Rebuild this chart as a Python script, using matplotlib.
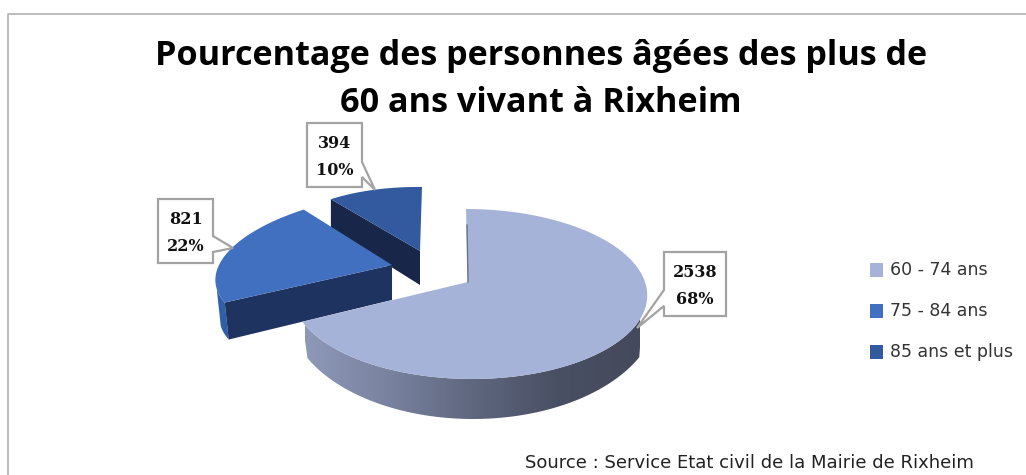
#!/usr/bin/env python3
import matplotlib
matplotlib.use('Agg')
import matplotlib.pyplot as plt
from matplotlib.colors import LinearSegmentedColormap
from matplotlib.patches import Polygon, Rectangle
import numpy as np

categories = ['60 - 74 ans', '75 - 84 ans', '85 ans et plus']
values = [2538, 821, 394]
title_lines = ['Pourcentage des personnes âgées des plus de', '60 ans vivant à Rixheim']
source = 'Source : Service Etat civil de la Mairie de Rixheim'

top_colors = ['#a6b3d8', '#4170c0', '#335a9f']
face_colors = ['#6b7285', '#1f3360', '#18264a']

fig = plt.figure(figsize=(10.26, 4.75), dpi=100)
ax = fig.add_axes([0, 0, 1, 1])
ax.set_xlim(0, 1026)
ax.set_ylim(475, 0)
ax.axis('off')

# frame of the chart area
ax.plot([8, 8, 1026], [475, 14, 14], color='#b0b0b0', lw=1.2)

# wedge angles, clockwise from 12 o'clock
shares = np.array(values) / sum(values)
edges = np.concatenate([[0], np.cumsum(shares)]) * 2 * np.pi


def arc(a1, a2, geo, n=120):
    a = np.linspace(a1, a2, n)
    x = geo['cx'] + geo['A'] * np.sin(a) + geo['B'] * np.cos(a)
    y = geo['cy'] + geo['E'] * np.sin(a) + geo['F'] * np.cos(a)
    return np.column_stack([x, y])


def main_arc(a1, a2, n=200):
    # the big slice needs real perspective, the front is nearer than the back
    a = np.linspace(a1, a2, n)
    u, v = np.sin(a), -np.cos(a)
    d = 1 - 0.141 * v
    return np.column_stack([469 + 3 * v + 176 * u / d, 282 + 83.3 * v / d])


# perspective of the exploded slices, fitted by eye
main_low = dict(cx=473, cy=309, A=185, B=0, E=0, F=-110)
mid = dict(cx=392, cy=265, A=175, B=24, E=-5, F=-74)
back = dict(cx=420, cy=251, A=148, B=2, E=2, F=-64)

# back slice, 85 ans et plus
a1, a2 = edges[2], edges[3]
top = arc(a1, a2, back)
apex = np.array([420, 251])
ax.add_patch(Polygon([apex, top[0], top[0] + [0, 30], apex + [0, 34]], fc=face_colors[2], ec='none', zorder=2))
ax.add_patch(Polygon(np.vstack([apex, top]), fc=top_colors[2], ec='none', zorder=3))

# middle slice, 75 - 84 ans
a1, a2 = edges[1], edges[2]
top = arc(a1, a2, mid)
apex = np.array([392, 265])
drop = np.array([4, 37])
lip = arc(a1, np.radians(255), mid)
ax.add_patch(Polygon(np.vstack([lip, lip[::-1] + drop]), fc='#2f5fa8', ec='none', zorder=4))
ax.add_patch(Polygon([apex, top[0], top[0] + drop, apex + [0, 35]], fc=face_colors[1], ec='none', zorder=4))
ax.add_patch(Polygon(np.vstack([apex, top]), fc=top_colors[1], ec='none', zorder=5))

# main slice side wall with a left to right gradient
a1, a2 = edges[0], edges[1]
upper = main_arc(np.radians(112), a2)
lower = arc(np.radians(116), a2, main_low)
wall = Polygon(np.vstack([upper, lower[::-1]]), fc='none', ec='none', zorder=6)
ax.add_patch(wall)
grad = np.linspace(0, 1, 256).reshape(1, -1)
cmap = LinearSegmentedColormap.from_list('wall', ['#8e99b8', '#79829f', '#5f677f', '#4a5064', '#444a5b'])
im = ax.imshow(grad, extent=[305, 640, 430, 280], cmap=cmap, aspect='auto', zorder=6)
im.set_clip_path(wall)
ax.set_xlim(0, 1026)
ax.set_ylim(475, 0)

# main slice top
top = main_arc(a1, a2)
apex = np.array([468, 282])
ax.add_patch(Polygon(np.vstack([apex, top]), fc=top_colors[0], ec='none', zorder=7))
ax.plot([467, 468], [225, 282], color=face_colors[0], lw=1, zorder=7)

# callouts: box, tail root on the box side, tail tip
labels = [f'{v}\n{round(s * 100)}%' for v, s in zip(values, shares)]
box_left = [664, 158, 307]
box_top = [252, 199, 123]
box_w = [62, 55, 55]
box_h = [64, 64, 64]
tails = [[(664, 290), (637, 328), (664, 306)],
         [(213, 236), (233, 248), (213, 252)],
         [(362, 162), (375, 190), (362, 177)]]
sides = ['left', 'right', 'right']
for lab, x, y, w, h, tail, side in zip(labels, box_left, box_top, box_w, box_h, tails, sides):
    if side == 'left':
        outline = [(x + w, y), (x + w, y + h), (x, y + h), tail[2], tail[1], tail[0], (x, y)]
    else:
        outline = [(x, y), (x + w, y), tail[0], tail[1], tail[2], (x + w, y + h), (x, y + h)]
    ax.add_patch(Polygon(outline, fc='white', ec='#a3a3a3', lw=1.6, zorder=8, joinstyle='miter'))
    ax.text(x + w / 2, y + h / 2 + 2, lab, ha='center', va='center', family='DejaVu Serif', weight='bold',
            fontsize=11.5, linespacing=1.75, color='#111111', zorder=9)

# title
for line, y in zip(title_lines, [56, 103]):
    ax.text(541, y, line, ha='center', va='center', family='Open Sans', weight='bold', fontsize=24.6, color='black')

# legend
for cat, col, y in zip(categories, top_colors, [270, 311, 352]):
    ax.add_patch(Rectangle((870, y - 7), 13, 13.5, fc=col, ec='none'))
    ax.text(890, y, cat, ha='left', va='center', family='DejaVu Sans', fontsize=12.5, color='#333333')

ax.text(525, 463, source, ha='left', va='center', family='DejaVu Sans', fontsize=13, color='#222222')

fig.savefig('out.png', dpi=100)
